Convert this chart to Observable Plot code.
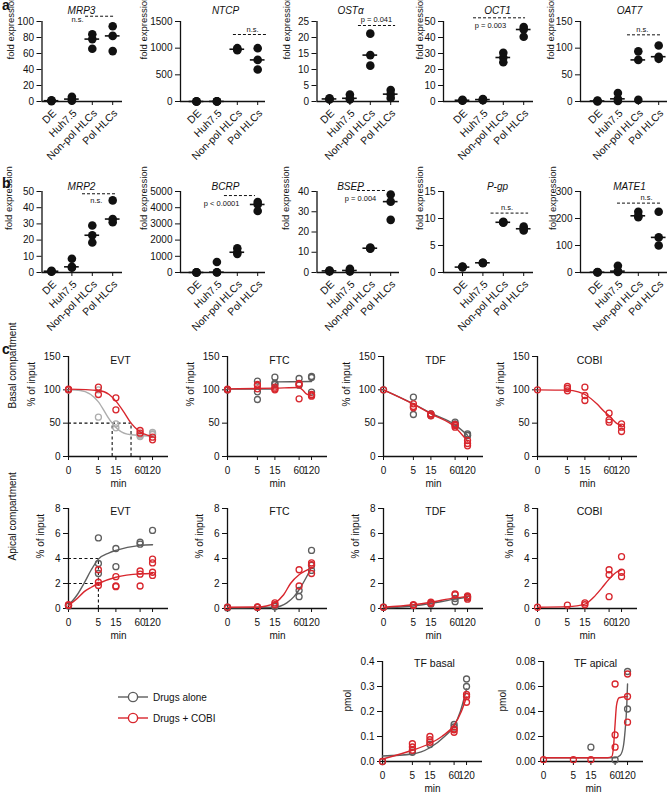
<!DOCTYPE html>
<html><head><meta charset="utf-8">
<script src="https://cdn.jsdelivr.net/npm/d3@7"></script>
<script src="https://cdn.jsdelivr.net/npm/@observablehq/plot@0.6"></script>
<style>
body{margin:0;background:#fff;font-family:"Liberation Sans",Arial,Helvetica,sans-serif;}
#fig{position:relative;width:671px;height:794px;overflow:hidden;background:#fff;}
#fig svg{position:absolute;left:0;top:0;}
.plab{position:absolute;font-weight:bold;font-size:14px;line-height:14px;color:#111;}
.leg{position:absolute;font-size:10px;color:#111;display:flex;align-items:center;}
</style></head><body><div id="fig"></div>
<script>
// ---------------- data: panels a and b (fold expression) ----------------
const categories = ["DE", "Huh7.5", "Non-pol HLCs", "Pol HLCs"];
const MRP3 = [[1, 0.5, 1.5], [6, 3, 1], [84, 78, 66], [94, 82, 63]];
const NTCP = [[2, 1, 0], [5, 2, 0], [1000, 980, 960], [1000, 780, 600]];
const OSTa = [[1.0, 0.6, 0.8], [2.2, 1.0, 0.6], [21.2, 14.5, 11.2], [3.6, 2.3, 1.1]];
const OCT1 = [[0.8, 0.5, 1], [1.2, 0.8, 1.5], [30.5, 27.5, 24.5], [46.5, 45, 40.5]];
const OAT7 = [[1, 0, 2], [16, 5, 1], [94, 78, 3], [105, 84, 80]];
const MRP2 = [[1, 0.5, 0.8], [8.5, 3.5, 3], [29, 23, 18.5], [44.5, 33, 31]];
const BCRP = [[10, 5, 0], [650, 20, 5], [1500, 1250, 1150], [4350, 4200, 3800]];
const BSEP = [[1, 0.8, 0.5], [1.8, 1.0, 0.5], [12.3, 12, 11.8], [38.5, 35, 26]];
const PGP = [[1.0, 1.0, 1.1], [1.8, 1.8, 1.7], [9.4, 9.3, 9.2], [8.5, 8.1, 7.8]];
const MATE1 = [[1, 0, 2], [25, 5, 2], [225, 210, 205], [225, 130, 100]];

const genesA = ["MRP3", "NTCP", "OSTα", "OCT1", "OAT7"];
const genesB = ["MRP2", "BCRP", "BSEP", "P-gp", "MATE1"];
const valuesA = [MRP3, NTCP, OSTa, OCT1, OAT7];
const valuesB = [MRP2, BCRP, BSEP, PGP, MATE1];
const ticksA = [[0, 20, 40, 60, 80, 100], [0, 500, 1000, 1500], [0, 5, 10, 15, 20, 25], [0, 10, 20, 30, 40, 50], [0, 50, 100, 150]];
const ticksB = [[0, 10, 20, 30, 40, 50], [0, 1000, 2000, 3000, 4000, 5000], [0, 10, 20, 30, 40], [0, 5, 10, 15], [0, 100, 200, 300]];
// significance bars: label, bar level, bar extent (category units), label position
const sigA = [
  {text: "n.s.", y: 106.6, x1: 1.67, x2: 3.14, tx: 1.57, ty: 103, anchor: "end"},
  {text: "n.s.", y: 1256, x1: 1.81, x2: 3.48, tx: 2.75, ty: 1350, anchor: "middle"},
  {text: "p = 0.041", y: 23.75, x1: 1.42, x2: 3.24, tx: 2.3, ty: 25.6, anchor: "middle"},
  {text: "p = 0.003", y: 52.3, x1: 0.54, x2: 3.09, tx: 1.37, ty: 47.5, anchor: "middle"},
  {text: "n.s.", y: 125, x1: 1.47, x2: 3.1, tx: 2.2, ty: 135, anchor: "middle"}
];
const sigB = [
  {text: "n.s.", y: 48.6, x1: 1.52, x2: 3.14, tx: 2.2, ty: 44.4, anchor: "middle"},
  {text: "p < 0.0001", y: 4750, x1: 1.37, x2: 2.89, tx: 1.23, ty: 4240, anchor: "middle"},
  {text: "p = 0.004", y: 40.5, x1: 1.37, x2: 2.84, tx: 1.52, ty: 36.7, anchor: "middle"},
  {text: "n.s.", y: 11, x1: 1.4, x2: 3.24, tx: 2.18, ty: 12.1, anchor: "middle"},
  {text: "n.s.", y: 257, x1: 0.98, x2: 3.09, tx: 2.4, ty: 279, anchor: "middle"}
];

// ---------------- data: panel c (transport time courses) ----------------
const times = [0, 5, 15, 60, 120];
const timeTicks = [0, 5, 15, 60, 120];
// replicate values per time point
const evtBasalAlone = [[100, 100, 100], [100, 59], [49, 43], [30, 32, 33], [36, 34, 33]];
const evtBasalCobi = [[100, 101], [104, 93], [88, 70], [39, 35], [29, 25]];
const ftcBasalAlone = [[100, 100], [113, 97, 85.5], [119, 110, 108], [117, 107], [120, 118.5, 96.5]];
const ftcBasalCobi = [[100, 101], [108, 106.5, 101.5], [104, 101.5, 100], [109.5, 108, 86.5], [93, 90.5, 92]];
const tdfBasalAlone = [[100], [89, 63], [64, 61.5], [51.5, 49], [34, 31.5, 32]];
const tdfBasalCobi = [[100], [79, 75, 73], [64, 62, 61], [46.5, 44, 48], [24, 19.5, 16]];
const cobiBasalCobi = [[100], [105, 102, 98.5], [104, 91.5, 84], [65, 55, 51.5], [49, 44, 37.5]];
const evtApicalAlone = [[0.25, 0.2], [5.65, 3.6, 2.8], [4.8, 3.35], [5.3, 5.15], [6.25]];
const evtApicalCobi = [[0.25, 0.3], [3.1, 2.1, 1.85], [2.55, 1.8, 1.75], [3.0, 2.75, 1.8], [3.95, 3.65, 2.9, 2.65]];
const ftcApicalAlone = [[0.05, 0.1], [0.1], [0.15, 0.2], [1.45, 0.95], [4.65, 3.45, 3.05]];
const ftcApicalCobi = [[0.1], [0.13, 0.1], [0.45, 0.3], [3.1, 1.8], [3.65, 3.5, 2.8]];
const tdfApicalAlone = [[0.1], [0.25], [0.35], [0.8, 0.55], [0.95, 0.85]];
const tdfApicalCobi = [[0.1], [0.3, 0.25], [0.5, 0.4], [1.17, 1.1], [1.0, 0.9, 0.75]];
const cobiApicalCobi = [[0.1], [0.27], [0.45, 0.3], [3.1, 2.7, 0.95], [4.15, 2.9, 2.55]];
const tfBasalAlone = [[0], [0.037], [0.068], [0.148, 0.138], [0.33, 0.3]];
const tfBasalCobi = [[0], [0.071, 0.058, 0.045], [0.1, 0.087, 0.077], [0.13, 0.127, 0.117], [0.268, 0.26, 0.237]];
const tfApicalAlone = [[], [], [0.0115], [0.0013], [0.072, 0.042]];
const tfApicalCobi = [[0.0015], [0.0015], [0.0015], [0.062, 0.0213, 0.0115], [0.07, 0.052, 0.0315]];
// fitted curves: [time, value]
const evtBasalAloneFit = [[0, 100], [1.1, 99], [5, 82], [8.8, 61], [12, 50], [15, 43.5], [29, 33.5], [60, 31.5], [120, 30.5]];
const evtBasalCobiFit = [[0, 101], [5, 99], [10, 93], [15, 83], [24, 66.5], [36, 50], [60, 37], [90, 32], [120, 30]];
const ftcBasalAloneFit = [[0, 101], [13, 101], [15, 107], [17, 112], [120, 112.5]];
const ftcBasalCobiFit = [[0, 101.5], [15, 102.5], [60, 103.5], [75, 99], [90, 94], [120, 91.5]];
const tdfBasalAloneFit = [[0, 100], [5, 79], [15, 65], [60, 47.5], [120, 32]];
const tdfBasalCobiFit = [[0, 100], [5, 78.5], [15, 64], [60, 44], [120, 23]];
const cobiBasalCobiFit = [[0, 100], [5, 99.5], [10, 97], [15, 93], [30, 79], [45, 68], [60, 61], [90, 50], [120, 46]];
const evtApicalAloneFit = [[0, 0.25], [0.74, 1.1], [1.6, 2.0], [3, 3.1], [5, 3.95], [10, 4.45], [15, 4.65], [60, 5.05], [120, 5.1]];
const evtApicalCobiFit = [[0, 0.25], [0.74, 0.8], [1.6, 1.33], [3, 1.7], [5, 2.0], [15, 2.5], [60, 2.77], [120, 2.8]];
const ftcApicalAloneFit = [[0, 0.05], [15, 0.1], [21, 0.2], [30, 0.45], [45, 0.95], [60, 1.5], [90, 2.5], [120, 3.3]];
const ftcApicalCobiFit = [[0, 0.1], [5, 0.12], [9, 0.2], [15, 0.45], [25, 1.1], [37, 2.0], [60, 2.7], [90, 3.05], [120, 3.25]];
const tdfApicalAloneFit = [[0, 0.05], [5, 0.2], [15, 0.4], [60, 0.75], [120, 0.9]];
const tdfApicalCobiFit = [[0, 0.1], [5, 0.3], [15, 0.5], [60, 0.85], [120, 0.95]];
const cobiApicalCobiFit = [[0, 0.1], [5, 0.15], [15, 0.35], [25, 0.9], [40, 1.65], [60, 2.35], [90, 2.9], [120, 3.1]];
const tfBasalAloneFit = [[0, 0.022], [5, 0.03], [15, 0.055], [35, 0.1], [60, 0.142], [85, 0.2], [120, 0.29]];
const tfBasalCobiFit = [[0, 0.01], [5, 0.045], [15, 0.072], [30, 0.1], [60, 0.145], [90, 0.2], [120, 0.258]];
const tfApicalAloneFit = [[0, 0.003], [60, 0.003], [80, 0.005], [95, 0.012], [105, 0.025], [115, 0.045], [120, 0.062]];
const tfApicalCobiFit = [[0, 0.003], [40, 0.003], [50, 0.004], [55, 0.012], [60, 0.03], [65, 0.045], [75, 0.051], [120, 0.052]];
// half-maximal guides
const evtBasalHalf = {y: 50, alone: 12, cobi: 36};
const evtApicalGuide = {t: 5, alone: 4, cobi: 2};
const legendLabels = ["Drugs alone", "Drugs + COBI"];

// ---------------- layout & style ----------------
const W = 671, H = 794;
const FONT = '"Liberation Sans", Arial, Helvetica, sans-serif';
const INK = "#111";
const GRAY = "#5e5e5e", LIGHT = "#adadad", RED = "#d8262d";
const colX0 = [41.5, 180, 316.5, 443, 580];
const colDE = [51, 196, 329, 462, 597];
const colEnd = [122, 265, 399, 533, 667];
const catStep = 20.4;
const rowTop = [21, 191], rowZero = [101, 272];
const titleX = [81, 225, 350, 497, 629];
const titleDy = [-15, -9];
const ylabOff = [[-31, -37, -30, -24, -30], [-33, -37, -31, -24, -28]];
const fig = document.getElementById("fig");

function base(x0, end, top, zero) {
  return {
    width: W, height: H,
    marginLeft: x0, marginRight: W - end, marginTop: top, marginBottom: H - zero,
    style: {background: "transparent", overflow: "visible", fontFamily: FONT, fontSize: "10px", color: INK}
  };
}
function add(svg) { fig.appendChild(svg); }

function expressionPanel(gene, values, ticks, sig, col, row) {
  const x0 = colX0[col], de = colDE[col], end = colEnd[col];
  const xmin = (x0 - de) / catStep, xmax = (end - de) / catStep;
  const ymax = ticks[ticks.length - 1];
  const pts = values.flatMap((vs, i) => vs.map(v => ({i, v})));
  const meds = values.map((vs, i) => ({i, m: d3.median(vs)}));
  const idx = categories.map((c, i) => i);
  return Plot.plot({
    ...base(x0, end, rowTop[row], rowZero[row]),
    x: {domain: [xmin, xmax]},
    y: {domain: [0, ymax]},
    marks: [
      Plot.ruleX([{x: xmin, y1: 0, y2: ymax}], {x: "x", y1: "y1", y2: "y2", stroke: INK, strokeWidth: 1.3}),
      Plot.ruleY([{y: 0, x1: xmin, x2: xmax}], {y: "y", x1: "x1", x2: "x2", stroke: INK, strokeWidth: 1.3}),
      Plot.axisY(ticks, {tickSize: 5, tickPadding: 3, tickFormat: d => String(d), label: null, fontSize: 10}),
      Plot.axisX(idx, {tickSize: 4, tickFormat: () => "", label: null}),
      Plot.text(idx, {x: d => d, y: () => 0, text: i => categories[i], rotate: -45, textAnchor: "end", dx: 3, dy: 10, fontSize: 10.5}),
      Plot.dot(pts, {x: "i", y: "v", r: 4.3, fill: INK, stroke: null}),
      Plot.ruleY(meds, {y: "m", x1: d => d.i - 0.36, x2: d => d.i + 0.36, stroke: INK, strokeWidth: 1.6}),
      Plot.ruleY([sig], {y: "y", x1: "x1", x2: "x2", stroke: INK, strokeDasharray: "3,2", strokeWidth: 1}),
      Plot.text([sig], {x: "tx", y: "ty", text: "text", textAnchor: sig.anchor, fontSize: 7.5}),
      Plot.text([gene], {text: d => d, frameAnchor: "top", dx: titleX[col] - (x0 + end) / 2, dy: titleDy[row], fontStyle: "italic", fontSize: 10}),
      Plot.text(["fold expression"], {text: d => d, frameAnchor: "left", rotate: -90, dx: ylabOff[row][col], dy: -2, fontSize: 9.5})
    ]
  });
}

genesA.forEach((g, i) => add(expressionPanel(g, valuesA[i], ticksA[i], sigA[i], i, 0)));
genesB.forEach((g, i) => add(expressionPanel(g, valuesB[i], ticksB[i], sigB[i], i, 1)));

// ---------------- panel c ----------------
const cRows = [
  {top: 356, zero: 456, ylab: "% of input", ylabDx: -37, titleDy: 0},
  {top: 508, zero: 608, ylab: "% of input", ylabDx: -28, titleDy: -1},
  {top: 661, zero: 761, ylab: "pmol", ylabDx: -35, titleDy: -2}
];
const X_DOMAIN_MAX = 290;
const toPts = s => times.flatMap((t, i) => s[i].map(v => ({t, v})));
const toFit = f => f.map(([t, v]) => ({t, v}));

function timePanel(p) {
  const R = cRows[p.row];
  const end = p.x0 + 100;
  const ymax = p.ticks[p.ticks.length - 1];
  const marks = [
    Plot.ruleX([{x: 0, y1: 0, y2: ymax}], {x: "x", y1: "y1", y2: "y2", stroke: INK, strokeWidth: 1.3}),
    Plot.ruleY([{y: 0, x1: 0, x2: X_DOMAIN_MAX}], {y: "y", x1: "x1", x2: "x2", stroke: INK, strokeWidth: 1.3}),
    Plot.axisY(p.ticks, {tickSize: 5, tickPadding: 3, tickFormat: p.fmt || (d => String(d)), label: null, fontSize: 10}),
    Plot.axisX(timeTicks, {tickSize: 4, tickPadding: 6, tickFormat: d => String(d), label: null, fontSize: 10}),
    Plot.text([p.title], {text: d => d, frameAnchor: "top", dx: 2, dy: R.titleDy, fontSize: 10.5}),
    Plot.text([R.ylab], {text: d => d, frameAnchor: "left", rotate: -90, dx: p.ylabDx ?? R.ylabDx, fontSize: 10}),
    Plot.text(["min"], {text: d => d, frameAnchor: "bottom", dy: 30, fontSize: 10})
  ];
  if (p.side) marks.push(Plot.text([p.side], {text: d => d, frameAnchor: "left", rotate: -90, dx: 12 - p.x0, dy: 2, fontSize: 10}));
  if (p.guides) marks.push(...p.guides);
  if (p.alone) {
    marks.push(Plot.line(toFit(p.aloneFit), {x: "t", y: "v", stroke: p.aloneColor || GRAY, strokeWidth: 1.4, curve: "monotone-x"}));
    marks.push(Plot.dot(toPts(p.alone), {x: "t", y: "v", r: 3, stroke: p.aloneColor || GRAY, strokeWidth: 1.3, fill: "none"}));
  }
  marks.push(Plot.line(toFit(p.cobiFit), {x: "t", y: "v", stroke: RED, strokeWidth: 1.4, curve: "monotone-x"}));
  marks.push(Plot.dot(toPts(p.cobi), {x: "t", y: "v", r: 3, stroke: RED, strokeWidth: 1.3, fill: "none"}));
  return Plot.plot({
    ...base(p.x0, end, R.top, R.zero),
    x: {type: "symlog", constant: 1.2, domain: [0, X_DOMAIN_MAX]},
    y: {domain: [0, ymax]},
    marks
  });
}

const dashed = {stroke: INK, strokeWidth: 1.1, strokeDasharray: "3,2.5"};
const evtBasalGuides = [
  Plot.ruleY([{y: evtBasalHalf.y, x1: 0, x2: evtBasalHalf.cobi}], {y: "y", x1: "x1", x2: "x2", ...dashed}),
  Plot.ruleX([evtBasalHalf.alone, evtBasalHalf.cobi], {x: d => d, y1: 0, y2: evtBasalHalf.y, ...dashed})
];
const evtApicalGuides = [
  Plot.ruleY([evtApicalGuide.alone, evtApicalGuide.cobi], {y: d => d, x1: 0, x2: evtApicalGuide.t, ...dashed}),
  Plot.ruleX([evtApicalGuide.t], {x: d => d, y1: 0, y2: evtApicalGuide.alone, ...dashed})
];

const cPanels = [
  {title: "EVT", row: 0, x0: 68, ticks: [0, 50, 100, 150], side: "Basal compartment", alone: evtBasalAlone, aloneFit: evtBasalAloneFit, aloneColor: LIGHT, cobi: evtBasalCobi, cobiFit: evtBasalCobiFit, guides: evtBasalGuides},
  {title: "FTC", row: 0, x0: 227, ticks: [0, 50, 100, 150], alone: ftcBasalAlone, aloneFit: ftcBasalAloneFit, cobi: ftcBasalCobi, cobiFit: ftcBasalCobiFit},
  {title: "TDF", row: 0, x0: 383, ticks: [0, 50, 100, 150], alone: tdfBasalAlone, aloneFit: tdfBasalAloneFit, cobi: tdfBasalCobi, cobiFit: tdfBasalCobiFit},
  {title: "COBI", row: 0, x0: 537, ticks: [0, 50, 100, 150], cobi: cobiBasalCobi, cobiFit: cobiBasalCobiFit},
  {title: "EVT", row: 1, x0: 68, ticks: [0, 2, 4, 6, 8], side: "Apical compartment", alone: evtApicalAlone, aloneFit: evtApicalAloneFit, cobi: evtApicalCobi, cobiFit: evtApicalCobiFit, guides: evtApicalGuides},
  {title: "FTC", row: 1, x0: 227, ticks: [0, 2, 4, 6, 8], alone: ftcApicalAlone, aloneFit: ftcApicalAloneFit, cobi: ftcApicalCobi, cobiFit: ftcApicalCobiFit},
  {title: "TDF", row: 1, x0: 383, ticks: [0, 2, 4, 6, 8], alone: tdfApicalAlone, aloneFit: tdfApicalAloneFit, cobi: tdfApicalCobi, cobiFit: tdfApicalCobiFit},
  {title: "COBI", row: 1, x0: 537, ticks: [0, 2, 4, 6, 8], cobi: cobiApicalCobi, cobiFit: cobiApicalCobiFit},
  {title: "TF basal", row: 2, x0: 382, ticks: [0, 0.1, 0.2, 0.3, 0.4], fmt: d3.format(".1f"), ylabDx: -35, alone: tfBasalAlone, aloneFit: tfBasalAloneFit, cobi: tfBasalCobi, cobiFit: tfBasalCobiFit},
  {title: "TF apical", row: 2, x0: 543, ticks: [0, 0.02, 0.04, 0.06, 0.08], fmt: d3.format(".2f"), ylabDx: -41, alone: tfApicalAlone, aloneFit: tfApicalAloneFit, cobi: tfApicalCobi, cobiFit: tfApicalCobiFit}
];
cPanels.forEach(p => add(timePanel(p)));

// ---------------- panel letters & legend ----------------
[["a", -2], ["b", 176], ["c", 342]].forEach(([t, top]) => {
  const d = document.createElement("div");
  d.className = "plab"; d.textContent = t; d.style.left = "2px"; d.style.top = top + "px";
  fig.appendChild(d);
});
[GRAY, RED].forEach((c, i) => {
  const d = document.createElement("div");
  d.className = "leg"; d.style.left = "117px"; d.style.top = (689 + i * 21) + "px";
  d.innerHTML = `<svg width="34" height="16" style="position:static;margin-right:2px"><line x1="1" y1="8" x2="31" y2="8" stroke="${c}" stroke-width="1.4"/><circle cx="16" cy="8" r="4.6" fill="#fff" stroke="${c}" stroke-width="1.4"/></svg><span>${legendLabels[i]}</span>`;
  fig.appendChild(d);
});
</script></body></html>
